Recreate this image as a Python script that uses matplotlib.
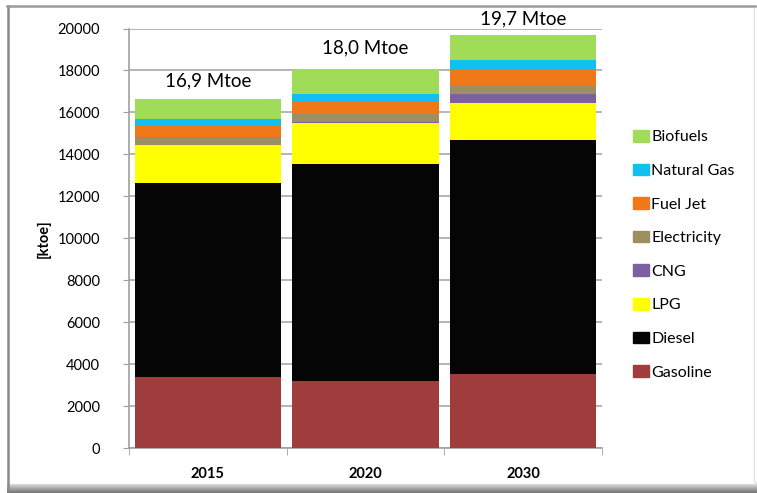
import numpy as np
import matplotlib.pyplot as plt
from matplotlib.patches import Rectangle, Patch
from matplotlib.lines import Line2D

plt.rcParams['font.family'] = ['Lato', 'DejaVu Sans']

# data (ktoe)
years = ["2015", "2020", "2030"]
totals = ["16,9 Mtoe", "18,0 Mtoe", "19,7 Mtoe"]
gasoline = [3400, 3200, 3530]
diesel = [9220, 10340, 11140]
lpg = [1820, 1940, 1780]
cng = [0, 80, 440]
electricity = [370, 370, 380]
fuel_jet = [570, 590, 730]
natural_gas = [320, 380, 500]
biofuels = [940, 1180, 1210]

series = [
    ("Gasoline", gasoline, "#9f3c3c"),
    ("Diesel", diesel, "#050505"),
    ("LPG", lpg, "#ffff00"),
    ("CNG", cng, "#7d60a0"),
    ("Electricity", electricity, "#9c9060"),
    ("Fuel Jet", fuel_jet, "#f07818"),
    ("Natural Gas", natural_gas, "#10c0f0"),
    ("Biofuels", biofuels, "#a0dc58"),
]

fig = plt.figure(figsize=(7.57, 4.93), dpi=100)
W, H = 757, 493

# outer frame: left/top gray edge, soft shadow along the bottom
bg = fig.add_axes([0, 0, 1, 1], zorder=0)
bg.set_axis_off()
bg.set_xlim(0, W)
bg.set_ylim(H, 0)
shade = np.linspace(1.0, 0.45, 50).reshape(-1, 1)
bg.imshow(shade, cmap="gray", vmin=0, vmax=1, extent=(7, 757, 493, 481), aspect="auto")
bg.add_patch(Rectangle((7, 6), 748, 478, facecolor="white", edgecolor="none"))
bg.add_line(Line2D([7.5, 7.5], [6, 490], color="#8a8a8a", lw=1.8))
bg.add_line(Line2D([7, 755], [6, 6], color="#9a9a9a", lw=1.8))
bg.add_line(Line2D([754, 754], [8, 484], color="#e4e4e4", lw=1.0))

ax = fig.add_axes([129 / W, 1 - 448 / H, (602 - 129) / W, (448 - 28.5) / H])
ax.set_zorder(2)
ax.patch.set_alpha(0)

x = np.arange(len(years))
bottom = np.zeros(len(years))
for name, vals, col in series:
    ax.bar(x, vals, 0.93, bottom=bottom, color=col, label=name, zorder=3)
    bottom += np.array(vals)

for xi, top, txt, dy in zip(x, bottom, totals, [850, 1000, 730]):
    ax.text(xi, top + dy, txt, ha="center", va="center", fontsize=13.5)

ax.set_xlim(-0.5, 2.5)
ax.set_ylim(0, 20000)
ax.set_yticks(range(0, 20001, 2000))
ax.yaxis.grid(True, color="#a8a8a8", lw=1.2, zorder=0)
ax.tick_params(axis="y", direction="out", length=4, color="#a0a0a0", labelsize=10.5, pad=17)
ax.set_xticks(x)
ax.set_xticklabels(years, fontweight="bold", fontsize=10.5)
ax.tick_params(axis="x", length=0, pad=14)
ax.set_xticks([-0.5, 0.5, 1.5, 2.5], minor=True)
ax.tick_params(axis="x", which="minor", length=5, direction="out", color="#a0a0a0")
for s in ["top", "right"]:
    ax.spines[s].set_visible(False)
for s in ["left", "bottom"]:
    ax.spines[s].set_color("#a0a0a0")
    ax.spines[s].set_linewidth(1.2)
ax.set_ylabel("[ktoe]", fontweight="bold", fontsize=10.5, labelpad=5)

handles = [Patch(color=col, label=name) for name, _, col in series][::-1]
fig.legend(handles=handles, loc="upper left", bbox_to_anchor=(633 / W, 1 - 130 / H),
           frameon=False, fontsize=11.5, handlelength=1.0, handleheight=0.75,
           handletextpad=0.15, labelspacing=1.2, borderaxespad=0, borderpad=0)

fig.savefig("out.png", dpi=100)
